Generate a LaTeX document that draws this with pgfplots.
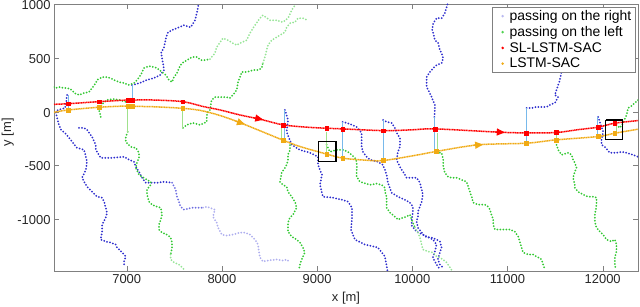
\documentclass[border=0pt]{standalone}
\usepackage{fontspec}
\setmainfont{Liberation Sans}
\usepackage{pgfplots}
\pgfplotsset{compat=1.18}
\usetikzlibrary{arrows.meta}
\definecolor{dblue}{RGB}{45,45,205}
\definecolor{mblue}{RGB}{110,110,225}
\definecolor{lblue}{RGB}{175,175,238}
\definecolor{dgreen}{RGB}{50,200,50}
\definecolor{lgreen}{RGB}{150,228,150}
\definecolor{conblue}{RGB}{120,185,235}
\definecolor{congreen}{RGB}{160,225,140}
\definecolor{orng}{RGB}{240,170,20}
\definecolor{axgray}{RGB}{128,128,128}
\definecolor{legblue}{RGB}{185,185,240}
\definecolor{leggreen}{RGB}{80,210,80}
\pgfplotsset{
 traj/.style={line width=2bp, line cap=round, dash pattern=on 0pt off 3bp, mark=none, forget plot},
 conn/.style={line width=0.8bp, mark=none, forget plot},
 legdot/.style={legend image code/.code={\path[draw=none,fill=none] (0,-2bp) rectangle (14bp,2bp); \fill[#1, draw=none] (9bp,0) circle (1.4bp);}},
}
\begin{document}
\begin{tikzpicture}
\useasboundingbox (-54bp,-36bp) rectangle (586bp,271bp);
\begin{axis}[
 at={(0,0)}, anchor=south west,
 width=584bp, height=267bp, scale only axis,
 xmin=6236, xmax=12371, ymin=-1480, ymax=1000,
 xtick={7000,8000,...,12000}, ytick={-1000,-500,0,500,1000},
 scaled ticks=false,
 /pgf/number format/1000 sep={},
 /pgf/number format/assume math mode=true,
 tick align=inside, major tick length=5bp,
 axis line style={axgray}, tick style={axgray},
 tick label style={font=\fontsize{13}{15}\selectfont, text=black!85},
 yticklabel style={yshift=-1bp},
 xlabel={x [m]}, ylabel={y [m]},
 label style={font=\fontsize{13}{15}\selectfont, text=black!85},
 xlabel style={at={(axis description cs:0.5,-0.1)}, anchor=center},
 ylabel style={at={(axis description cs:-0.079,0.52)}, anchor=center},
 legend style={at={(0.995,0.99)}, anchor=north east, draw=axgray, fill=white,
   font=\fontsize{14}{16}\selectfont, row sep=0.4bp, inner sep=1.5bp},
 legend cell align=left,
]
\addlegendimage{draw=none, legdot=legblue}
\addlegendimage{draw=none, legdot=leggreen}
\addlegendimage{draw=none, legdot=red}
\addlegendimage{draw=none, legdot=orng}

% ---------- pedestrians passing on the right (blue) ----------
\addplot[traj, dblue] coordinates {(6373,155) (6363,81) (6352,34) (6279,16) (6255,-3) (6268,-58) (6289,-123) (6310,-169) (6360,-206) (6412,-262) (6478,-336) (6552,-355) (6570,-419) (6583,-466) (6570,-540) (6531,-614) (6552,-651) (6583,-697) (6636,-744) (6688,-790) (6741,-799) (6762,-836) (6780,-892) (6793,-938) (6780,-984) (6741,-1049) (6741,-1114) (6727,-1188) (6780,-1207) (6832,-1216) (6885,-1234) (6898,-1262) (6951,-1308) (6990,-1345) (6972,-1392) (6972,-1420)};
\addplot[traj, dblue] coordinates {(6499,-151) (6552,-151) (6583,-169) (6636,-234) (6675,-308) (6675,-355) (6727,-429) (6846,-429) (6972,-419) (7024,-447) (7077,-466) (7095,-512) (7129,-558) (7161,-614) (7200,-660) (7318,-660) (7392,-651) (7476,-660)};
\addplot[traj, mblue] coordinates {(7476,-660) (7515,-725) (7528,-790) (7567,-883) (7602,-910) (7686,-892) (7759,-892) (7801,-892)};
\addplot[traj, lblue] coordinates {(7801,-892) (7840,-883) (7927,-910) (7906,-975) (7945,-1031) (7959,-1077) (7998,-1142) (8050,-1151) (8116,-1142) (8190,-1123) (8242,-1123) (8295,-1142) (8347,-1188) (8379,-1234) (8389,-1299) (8400,-1355) (8431,-1392) (8484,-1383) (8575,-1373) (8641,-1383) (8680,-1373) (8715,-1401)};
\addplot[traj, dblue] coordinates {(7056,247) (7140,266) (7210,294) (7287,312) (7350,340) (7392,386) (7381,451) (7361,544) (7392,599) (7412,682) (7434,738) (7476,757) (7549,784) (7602,803) (7672,784) (7717,849) (7738,923) (7749,970) (7755,1010)};
\addplot[traj, dblue] coordinates {(8662,16) (8694,-77) (8680,-188) (8733,-308) (8820,-355) (8925,-382) (9009,-419) (9009,-494) (9051,-586) (9030,-679) (9061,-790) (9166,-799) (9261,-818) (9324,-836) (9366,-892) (9366,-1003) (9355,-1095) (9397,-1188) (9502,-1234) (9639,-1262) (9712,-1345) (9733,-1447) (9740,-1480)};
\addplot[traj, dblue] coordinates {(9694,-77) (9730,-95) (9783,-105) (9817,-151) (9835,-197) (9870,-244) (9870,-327) (9849,-373) (9835,-447) (9870,-512) (9922,-586) (9940,-614) (10045,-614) (10080,-660) (10098,-725) (10111,-771) (10098,-836) (10080,-883) (10059,-929) (10059,-975) (10045,-1021) (10059,-1077) (10098,-1123) (10132,-1160) (10203,-1170) (10255,-1188) (10290,-1207) (10308,-1262) (10290,-1308) (10269,-1373) (10290,-1420) (10321,-1447)};
\addplot[traj, dblue] coordinates {(9268,-95) (9345,-114) (9415,-142) (9468,-197) (9468,-262) (9468,-327) (9481,-373) (9520,-419) (9555,-447) (9639,-466) (9691,-494) (9712,-540) (9730,-586) (9744,-660) (9783,-753) (9849,-790) (9922,-818) (9975,-845) (10006,-883) (10006,-938) (9993,-1003) (9993,-1058) (10045,-1114) (10132,-1151) (10216,-1188) (10255,-1234) (10237,-1299) (10216,-1355) (10255,-1420) (10290,-1466)};
\addplot[traj, dblue] coordinates {(10232,-49) (10237,16) (10237,62) (10203,136) (10167,201) (10150,229) (10150,275) (10150,321) (10185,368) (10220,405) (10255,432) (10308,451) (10325,497) (10308,544) (10290,571) (10272,636) (10237,664) (10220,729) (10209,757) (10220,821) (10255,868) (10308,868) (10342,914) (10360,970) (10377,1016)};
\addplot[traj, dblue] coordinates {(11200,34) (11253,34) (11305,44) (11358,44) (11410,44) (11445,62) (11497,81) (11515,108) (11532,136) (11497,155) (11515,201) (11532,247) (11550,294) (11571,386) (11602,479)};
\addplot[traj, dblue] coordinates {(11952,-49) (11970,-95) (11988,-142) (12005,-188) (11988,-262) (11988,-308) (12022,-327) (12075,-382) (12145,-382) (12198,-373) (12250,-382) (12320,-401) (12369,-419)};

% ---------- pedestrians passing on the left (green) ----------
\addplot[traj, dgreen] coordinates {(6236,229) (6255,219) (6289,229) (6342,219) (6376,219) (6426,201) (6447,173) (6499,155) (6552,173) (6604,182) (6636,219) (6675,266) (6688,294) (6741,321) (6780,321) (6832,312) (6867,294) (6919,275) (6972,266) (7024,247) (7077,266) (7108,294) (7147,340) (7182,405) (7234,423) (7287,414) (7318,405) (7371,368) (7410,340) (7444,294) (7476,275) (7497,321) (7528,358) (7549,405) (7581,451) (7633,479) (7686,507) (7738,507) (7777,479) (7822,479) (7875,488)};
\addplot[traj, lgreen] coordinates {(7875,488) (7927,544) (7945,599) (7980,645) (8011,682) (8064,664) (8116,636) (8155,618) (8190,636) (8260,664) (8295,729) (8347,803) (8400,868) (8431,895) (8505,849) (8575,849) (8641,831) (8694,868) (8733,942) (8767,988)};
\addplot[traj, dgreen] coordinates {(6727,-49) (6709,16) (6741,71) (6793,108) (6856,118) (6930,108) (6990,90)};
\addplot[traj, dgreen] coordinates {(7010,-188) (6990,-234) (6990,-281) (7042,-327) (7095,-336) (7129,-382) (7129,-429) (7108,-475) (7095,-521) (7129,-586) (7161,-605) (7213,-633) (7252,-651) (7252,-679) (7213,-725) (7213,-771) (7234,-836) (7266,-864) (7318,-883) (7357,-892) (7371,-957) (7357,-1003) (7339,-1049) (7339,-1095) (7371,-1123) (7423,-1142) (7462,-1170) (7476,-1216) (7476,-1262) (7462,-1327)};
\addplot[traj, lgreen] coordinates {(7462,-1327) (7462,-1373) (7497,-1401) (7549,-1420) (7581,-1447) (7612,-1475)};
\addplot[traj, dgreen] coordinates {(7591,-151) (7630,-123) (7696,-105) (7770,-123) (7840,-95) (7843,-12) (7875,16) (7892,108) (7927,136) (7980,136) (8032,136) (8085,127) (8116,155) (8155,201) (8169,275) (8190,321) (8208,368) (8260,368) (8326,386) (8379,386) (8418,405) (8431,451)};
\addplot[traj, lgreen] coordinates {(8431,451) (8452,507) (8470,571) (8484,618) (8523,664) (8557,682) (8610,710) (8662,738) (8680,784) (8715,821) (8767,831) (8799,868) (8851,868) (8904,849)};
\addplot[traj, dgreen] coordinates {(8715,-310) (8715,-355) (8694,-401) (8694,-447) (8680,-494) (8662,-521) (8628,-568) (8610,-651) (8641,-679) (8680,-697) (8694,-744) (8733,-790) (8767,-836) (8785,-892) (8746,-957) (8715,-984) (8694,-1031) (8694,-1114) (8733,-1160) (8785,-1188) (8820,-1216) (8851,-1262) (8872,-1308) (8838,-1373) (8820,-1420) (8810,-1466)};
\addplot[traj, dgreen] coordinates {(9100,-308) (9135,-373) (9205,-355) (9271,-355) (9324,-373) (9363,-401) (9397,-429) (9415,-466) (9418,-512) (9415,-558) (9415,-605) (9450,-651) (9481,-660) (9555,-679) (9625,-669) (9678,-679) (9712,-707) (9712,-744) (9730,-790) (9730,-836) (9730,-892) (9765,-938) (9817,-975) (9849,-1003) (9901,-984) (9940,-975) (9975,-957) (9993,-1003) (10027,-1077)};
\addplot[traj, lgreen] coordinates {(10027,-1077) (10059,-1123) (10080,-1170) (10098,-1234) (10111,-1281) (10164,-1299) (10216,-1308) (10255,-1345) (10290,-1355) (10321,-1373) (10360,-1401) (10395,-1447) (10416,-1475)};
\addplot[traj, dgreen] coordinates {(10258,-382) (10308,-382) (10325,-447) (10325,-512) (10342,-568) (10377,-605) (10413,-614) (10465,-614) (10518,-633) (10570,-651) (10587,-697) (10605,-744) (10623,-790) (10640,-845) (10692,-864) (10762,-864) (10797,-883) (10815,-910) (10832,-957) (10850,-1003) (10850,-1049) (10868,-1095) (10920,-1095) (10973,-1095) (11025,-1095) (11077,-1114) (11112,-1160) (11130,-1207) (11148,-1262) (11164,-1308) (11217,-1327) (11269,-1327) (11305,-1345) (11358,-1373) (11374,-1420) (11392,-1466)};
\addplot[traj, dgreen] coordinates {(11515,-308) (11532,-355) (11568,-401) (11637,-382) (11673,-401) (11689,-447) (11707,-475) (11725,-521) (11707,-558) (11689,-614) (11707,-679) (11707,-707) (11742,-744) (11794,-771) (11847,-790) (11900,-790) (11935,-799) (11935,-864) (11928,-910) (11917,-957) (11917,-1021) (11935,-1077) (11970,-1114) (12005,-1142) (12040,-1188) (12093,-1207) (12127,-1188) (12145,-1234) (12145,-1299) (12127,-1355) (12127,-1420) (12138,-1466)};
\addplot[traj, dgreen] coordinates {(12145,-123) (12180,-151) (12215,-105) (12250,-31) (12268,34) (12303,53) (12337,81) (12372,108)};

% ---------- connectors ----------
\addplot[conn, conblue] coordinates {(6387,155) (6387,16)};
\addplot[conn, conblue] coordinates {(7059,247) (7059,108)};
\addplot[conn, congreen] coordinates {(7010,53) (7010,-200)};
\addplot[conn, congreen] coordinates {(7588,31) (7588,-152)};
\addplot[conn, conblue] coordinates {(8660,16) (8660,-262)};
\addplot[conn, congreen] coordinates {(8630,-140) (8630,-262)};
\addplot[conn, congreen] coordinates {(9100,-190) (9100,-394)};
\addplot[conn, conblue] coordinates {(9268,-95) (9268,-432)};
\addplot[conn, conblue] coordinates {(9694,-77) (9694,-454)};
\addplot[conn, conblue] coordinates {(10237,-46) (10237,-370)};
\addplot[conn, congreen] coordinates {(10260,-200) (10260,-370)};
\addplot[conn, conblue] coordinates {(11200,34) (11200,-293)};
\addplot[conn, congreen] coordinates {(11510,-194) (11510,-262)};
\addplot[conn, conblue] coordinates {(11940,-46) (11940,-231)};
\addplot[conn, congreen] coordinates {(12145,-123) (12145,-200)};

% ---------- robot paths ----------
\addplot[orng, line width=1.5bp, dash pattern=on 1.2bp off 0.5bp, smooth, mark=none, forget plot] coordinates {(6236,-6) (6387,16) (6709,41) (7010,53) (7059,50) (7300,45) (7588,31) (7770,12) (7962,-31) (8190,-102) (8634,-262) (8820,-324) (9100,-394) (9268,-432) (9500,-450) (9694,-454) (10062,-401) (10248,-370) (10692,-308) (11200,-293) (11508,-262) (11952,-231) (12127,-200) (12372,-163)};
\addplot[red, line width=1.5bp, dash pattern=on 1.2bp off 0.5bp, smooth, mark=none, forget plot] coordinates {(6236,68) (6387,74) (6709,93) (7010,108) (7059,108) (7287,108) (7588,93) (7812,46) (7980,16) (8190,-31) (8400,-70) (8644,-123) (8890,-144) (9100,-154) (9268,-160) (9694,-176) (9992,-169) (10240,-160) (10920,-191) (11200,-197) (11510,-194) (11725,-169) (11952,-144) (12127,-107) (12372,-83)};
\addplot[only marks, mark=square*, mark size=1.9bp, orng, forget plot] coordinates {(6387,16) (6709,41) (7010,53) (7059,50) (7588,31) (8644,-262) (9100,-394) (9268,-432) (9694,-454) (10248,-370) (11200,-293) (11508,-262) (11952,-231) (12127,-200)};
\addplot[only marks, mark=square*, mark size=1.9bp, red, forget plot] coordinates {(6387,74) (6709,93) (7010,108) (7059,108) (7588,93) (8644,-123) (9100,-154) (9268,-160) (9694,-176) (10240,-160) (11200,-197) (11510,-194) (11952,-144) (12127,-107)};
% direction arrows
\addplot[red, line width=1.2bp, -{Triangle[length=8bp,width=7bp]}, forget plot] coordinates {(8330,-56) (8434,-74)};
\addplot[red, line width=1.2bp, -{Triangle[length=8bp,width=7bp]}, forget plot] coordinates {(10870,-188) (10972,-193)};
\addplot[orng, line width=1.2bp, -{Triangle[length=8bp,width=7bp]}, forget plot] coordinates {(8140,-86) (8242,-118)};
\addplot[orng, line width=1.2bp, -{Triangle[length=8bp,width=7bp]}, forget plot] coordinates {(10640,-313) (10744,-306)};
% boxes
\addplot[black, line width=1.1bp, line join=miter, mark=none, forget plot] coordinates {(9012,-279) (9198,-279) (9198,-465) (9012,-465) (9012,-279)};
\addplot[black, line width=1.1bp, line join=miter, mark=none, forget plot] coordinates {(12033,-77) (12208,-77) (12208,-256) (12033,-256) (12033,-77)};

\legend{passing on the right, passing on the left, SL-LSTM-SAC, LSTM-SAC}
\end{axis}
\end{tikzpicture}
\end{document}
